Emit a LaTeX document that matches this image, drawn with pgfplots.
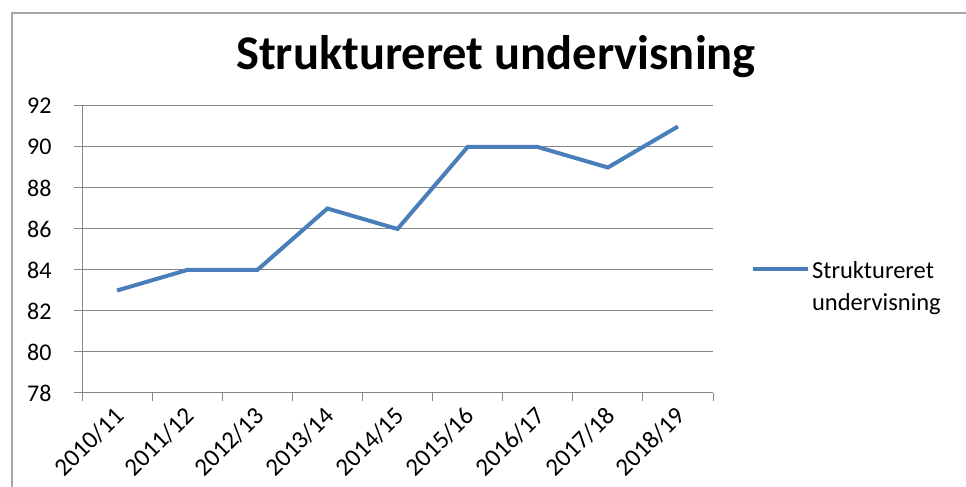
\documentclass[border=0pt]{standalone}
\usepackage{fontspec}
\setmainfont{Carlito}
\usepackage{pgfplots}
\pgfplotsset{compat=1.18}
\definecolor{xlblue}{RGB}{74,126,187}
\definecolor{xlgrid}{RGB}{134,134,134}
\begin{document}
\begin{tikzpicture}[x=1pt,y=1pt]
\useasboundingbox (0,0) rectangle (966,487);
\draw[color=black!35, line width=2pt] (12,0) -- (12,474) -- (966,474);
\node[font=\fontsize{48.5}{56}\selectfont\bfseries] at (496,430) {Struktureret undervisning};
\begin{axis}[
  at={(82pt,94pt)}, anchor=south west,
  width=631pt, height=287pt, scale only axis,
  xmin=-0.5, xmax=8.5, ymin=78, ymax=92,
  ytick={78,80,...,92},
  xtick={-0.5,0.5,...,8.5}, xticklabels={},
  extra x ticks={0,1,...,8},
  extra x tick labels={2010/11,2011/12,2012/13,2013/14,2014/15,2015/16,2016/17,2017/18,2018/19},
  extra x tick style={major tick length=0pt,
    xticklabel style={yshift=-7pt, xshift=-4pt, rotate=45, anchor=north east,
      font=\fontsize{25}{29}\selectfont}},
  axis x line*=bottom, axis y line*=left,
  axis line style={xlgrid, line width=1pt, -},
  ymajorgrids, major grid style={xlgrid, line width=1pt},
  tick align=outside, major tick length=8pt,
  every tick/.style={xlgrid, line width=1pt},
  ticklabel style={font=\fontsize{24}{28}\selectfont},
  yticklabel style={xshift=-19pt},
  /pgf/number format/assume math mode=true,
  legend style={at={(1.060,0.435)}, anchor=west, draw=none, fill=none, inner sep=0pt,
    font=\fontsize{24.5}{32}\selectfont},
  legend image code/.code={\draw[#1] (0pt,-1pt) -- (55pt,-1pt);},
]
\addplot[xlblue, line width=4pt] coordinates {
  (0,83) (1,84) (2,84) (3,87) (4,86) (5,90) (6,90) (7,89) (8,91)};
\addlegendentry{\begin{tabular}[t]{@{}l@{}}Struktureret\\undervisning\end{tabular}}
\end{axis}
\end{tikzpicture}
\end{document}
